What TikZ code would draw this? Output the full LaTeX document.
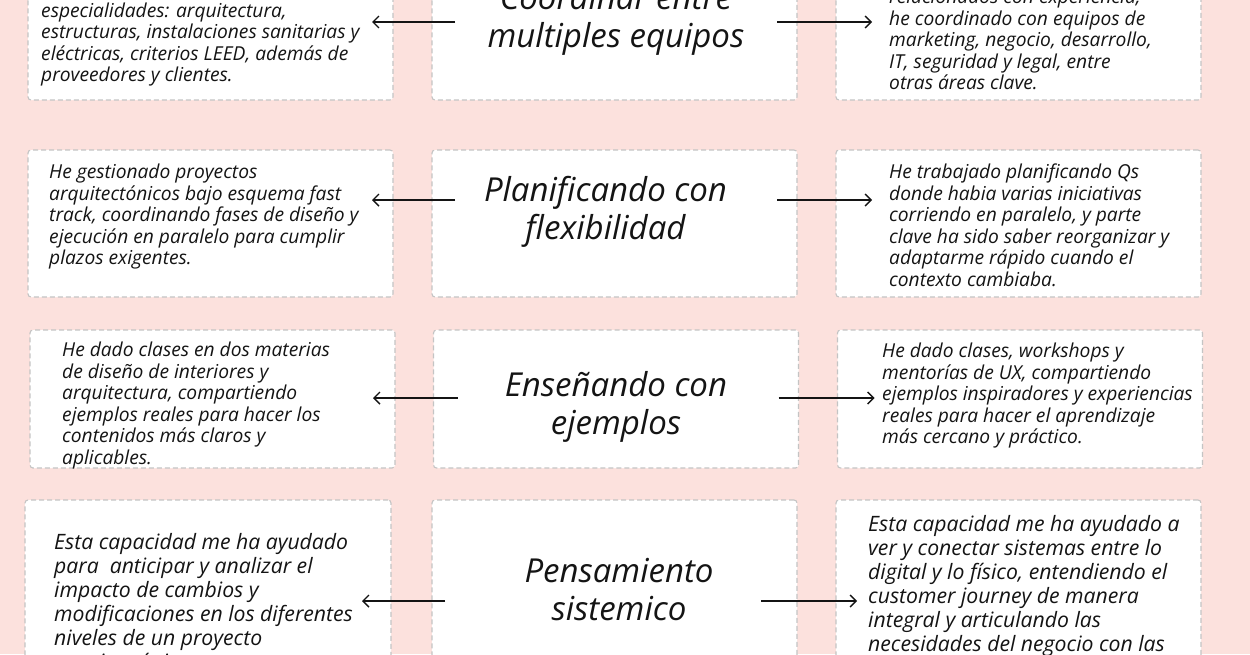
\documentclass[tikz,border=0pt]{standalone}
\usepackage{fontspec}
\setmainfont{Open Sans}
\usepackage{tikz}
\usetikzlibrary{arrows.meta, calc}
\definecolor{BgPink}{RGB}{252,225,221}
\definecolor{CardLine}{RGB}{196,196,196}
\definecolor{InkBlack}{RGB}{20,20,20}

\begin{document}
\begin{tikzpicture}[x=1pt, y=-1pt,
          card/.style={rectangle, rounded corners=3pt, draw=CardLine, fill=white,
                       line width=1.1pt, dash pattern=on 5pt off 3pt,
                       inner sep=0pt, outer sep=0pt, minimum width=365pt},
          body/.style={anchor=north west, align=left, inner sep=0pt, InkBlack,
                       font=\fontsize{19.2}{21.5}\selectfont\itshape},
          bigbody/.style={body, font=\fontsize{21.2}{24}\selectfont\itshape},
          title/.style={align=center, inner sep=0pt, InkBlack,
                        font=\fontsize{33}{38}\selectfont\itshape},
          arr/.style={-{Straight Barb[length=6pt, width=12pt]}, line width=1.4pt, draw=InkBlack}
        ]
        \useasboundingbox (0,0) rectangle (1250,654);
        \fill[BgPink] (0,0) rectangle (1250,654);
        \clip (0,0) rectangle (1250,654);

        % Row 1
        \node[card, minimum height=147pt] (l1) at (210.5,26.5) {};
        \node[card, minimum height=147pt] (m1) at (614.5,26.5) {};
        \node[card, minimum height=147pt] (r1) at (1018.5,26.5) {};
        \node[body] (tl1) at (41,2.5)
              {especialidades: arquitectura,\\estructuras, instalaciones sanitarias y\\
               eléctricas, criterios LEED, además de\\proveedores y clientes.};
        \node[title] (tm1) at (616,20) {Coordinar entre\\multiples equipos};
        \node[body] (tr1) at (889,-11)
              {relacionados con experiencia,\\he coordinado con equipos de\\
               marketing, negocio, desarrollo,\\IT, seguridad y legal, entre\\otras áreas clave.};

        % Row 2
        \node[card, minimum height=147pt] (l2) at (210.5,223.5) {};
        \node[card, minimum height=147pt] (m2) at (614.5,223.5) {};
        \node[card, minimum height=147pt] (r2) at (1018.5,223.5) {};
        \node[body] (tl2) at (49,164)
              {He gestionado proyectos\\arquitectónicos bajo esquema fast\\
               track, coordinando fases de diseño y\\ejecución en paralelo para cumplir\\
               plazos exigentes.};
        \node[title] (tm2) at (605.5,212) {Planificando con\\flexibilidad};
        \node[body] (tr2) at (889,164)
              {He trabajado planificando Qs\\donde habia varias iniciativas\\
               corriendo en paralelo, y parte\\clave ha sido saber reorganizar y\\
               adaptarme rápido cuando el\\contexto cambiaba.};

        % Row 3
        \node[card, minimum height=138pt] (l3) at (212.5,399) {};
        \node[card, minimum height=138pt] (m3) at (616,399) {};
        \node[card, minimum height=138pt] (r3) at (1020,399) {};
        \node[body] (tl3) at (62,342)
              {He dado clases en dos materias\\de diseño de interiores y\\
               arquitectura, compartiendo\\ejemplos reales para hacer los\\
               contenidos más claros y\\aplicables.};
        \node[title] (tm3) at (616,406.5) {Enseñando con\\ejemplos};
        \node[body] (tr3) at (882,343)
              {He dado clases, workshops y\\mentorías de UX, compartiendo\\
               ejemplos inspiradores y experiencias\\reales para hacer el aprendizaje\\
               más cercano y práctico.};

        % Row 4
        \node[card, minimum width=366pt, minimum height=200pt] (l4) at (208,600) {};
        \node[card, minimum height=200pt] (m4) at (614.5,600) {};
        \node[card, minimum height=200pt] (r4) at (1018.5,600) {};
        \node[bigbody] (tl4) at (54,533.5)
              {Esta capacidad me ha ayudado\\para\ \ anticipar y analizar el\\
               impacto de cambios y\\modificaciones en los diferentes\\
               niveles de un proyecto\\arquitectónico.};
        \node[title] (tm4) at (619,589.5) {Pensamiento\\sistemico};
        \node[bigbody] (tr4) at (868,515.5)
              {Esta capacidad me ha ayudado a\\ver y conectar sistemas entre lo\\
               digital y lo físico, entendiendo el\\customer journey de manera\\
               integral y articulando las\\necesidades del negocio con las};

        % arrows out of each middle card
        \foreach \r/\ay/\ml/\le/\mr/\ri in {1/22/23/21/20/36, 2/200/23/21/20/36,
                                           3/398/24/22/20/37, 4/601/13/29/36/21} {
          \coordinate (a\r) at (0,\ay);
          \draw[arr] ($(m\r.west |- a\r)+(\ml,0)$) -- ($(l\r.east |- a\r)-(\le,0)$);
          \draw[arr] ($(m\r.east |- a\r)-(\mr,0)$) -- ($(r\r.west |- a\r)+(\ri,0)$);
        }
      \end{tikzpicture}
\end{document}
